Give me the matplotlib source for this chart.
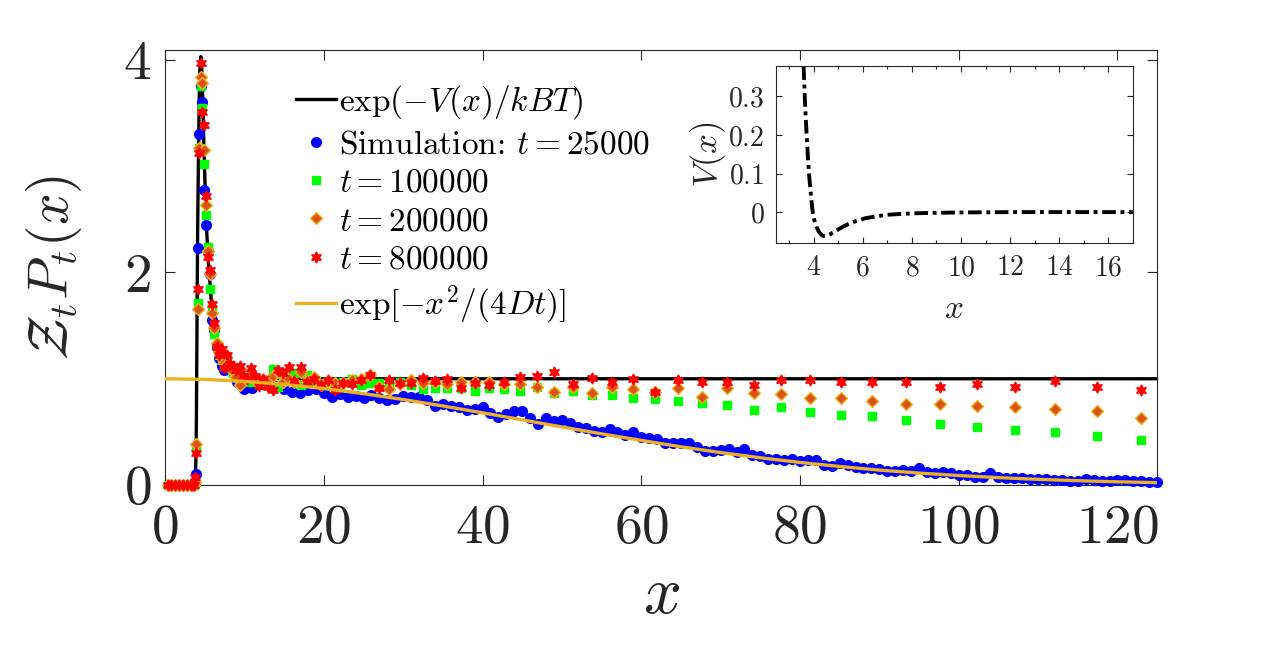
import matplotlib
matplotlib.use("Agg")
import matplotlib.pyplot as plt

plt.rcParams['mathtext.fontset'] = 'cm'
plt.rcParams['font.family'] = 'serif'
plt.rcParams['font.serif'] = ['cmr10', 'DejaVu Serif']
plt.rcParams['axes.unicode_minus'] = False
plt.rcParams['axes.formatter.use_mathtext'] = True

# exact curve exp(-V/kBT)
theory_x = [0.0, 3.5, 3.7, 3.8, 3.9, 3.95, 4.0, 4.05, 4.1, 4.2, 4.3, 4.4, 4.5, 4.6, 4.7, 4.8,
            4.9, 5.0, 5.2, 5.4, 5.6, 5.8, 6.0, 6.5, 7.0, 7.5, 8.0, 9.0, 10.0, 12.0, 15.0, 125.0]
theory_y = [0.0, 0.0, 0.0, 0.02, 0.3, 0.7, 1.3, 1.9, 2.4, 3.1, 3.65, 3.95, 4.03, 3.95, 3.75, 3.45,
            3.15, 2.9, 2.45, 2.15, 1.95, 1.75, 1.6, 1.38, 1.25, 1.17, 1.12, 1.06, 1.03, 1.01, 1.0, 1.0]

# gaussian exp[-x^2/(4Dt)] for t = 25000
gauss_x = [0, 5, 10, 15, 20, 25, 30, 35, 40, 45, 50, 55, 60, 65, 70, 75, 80, 85, 90, 95,
           100, 105, 110, 115, 120, 125]
gauss_y = [1.0, 0.994, 0.976, 0.947, 0.908, 0.86, 0.805, 0.744, 0.68, 0.613, 0.547, 0.482,
           0.42, 0.36, 0.306, 0.257, 0.213, 0.175, 0.141, 0.113, 0.09, 0.07, 0.054, 0.041,
           0.031, 0.023]

# simulation, t = 25000
sim_x = [0.3, 0.8, 1.3, 1.8, 2.3, 2.8, 3.2, 3.58, 3.75, 3.92, 4.11, 4.30, 4.50, 4.71, 4.93,
         5.17, 5.41, 5.66, 5.93, 6.21, 6.50, 6.81, 7.13, 7.46,
         8, 9, 10, 11, 12, 13, 14, 15, 16, 17, 18, 19, 20, 21, 22, 23, 24, 25, 26, 27, 28, 29,
         30, 31, 32, 33, 34, 35, 36, 37, 38, 39, 40, 41, 42, 43, 44, 45, 46, 47, 48, 49, 50,
         51, 52, 53, 54, 55, 56, 57, 58, 59, 60, 61, 62, 63, 64, 65, 66, 67, 68, 69, 70, 71,
         72, 73, 74, 75, 76, 77, 78, 79, 80, 81, 82, 83, 84, 85, 86, 87, 88, 89, 90, 91, 92,
         93, 94, 95, 96, 97, 98, 99, 100, 101, 102, 103, 104, 105, 106, 107, 108, 109, 110,
         111, 112, 113, 114, 115, 116, 117, 118, 119, 120, 121, 122, 123, 124, 125]
sim_25k = [0, 0, 0, 0, 0, 0, 0, 0, 0.02, 0.10, 2.23, 3.3, 3.75, 3.6, 2.78,
           2.45, 2.2, 1.99, 1.55, 1.46, 1.3, 1.2, 1.12, 1.08,
           1.10, 0.97, 0.90, 0.91, 0.95, 0.99, 0.93, 0.90, 0.88, 0.87, 0.89, 0.90, 0.87, 0.83,
           0.86, 0.83, 0.84, 0.82, 0.85, 0.82, 0.80, 0.81, 0.84, 0.83, 0.83, 0.80, 0.745, 0.76,
           0.745, 0.73, 0.71, 0.72, 0.73, 0.68, 0.645, 0.67, 0.70, 0.695, 0.63, 0.575, 0.63,
           0.60, 0.61, 0.58, 0.55, 0.54, 0.51, 0.50, 0.53, 0.50, 0.47, 0.50, 0.455, 0.44, 0.43,
           0.40, 0.395, 0.395, 0.40, 0.36, 0.32, 0.32, 0.33, 0.34, 0.31, 0.335, 0.28, 0.27,
           0.245, 0.25, 0.235, 0.245, 0.225, 0.24, 0.235, 0.19, 0.18, 0.21, 0.19, 0.17, 0.165,
           0.16, 0.15, 0.13, 0.13, 0.14, 0.135, 0.16, 0.12, 0.11, 0.12, 0.11, 0.095, 0.095,
           0.08, 0.075, 0.11, 0.08, 0.065, 0.07, 0.065, 0.06, 0.06, 0.06, 0.05, 0.045, 0.035,
           0.04, 0.055, 0.045, 0.04, 0.04, 0.045, 0.045, 0.035, 0.035, 0.03, 0.025]

# longer times share log-spaced bins
bin_x = [0.3, 0.8, 1.3, 1.8, 2.3, 2.8, 3.2, 3.41,
         3.58, 3.75, 3.92, 4.11, 4.30, 4.50, 4.71, 4.93, 5.17, 5.41, 5.66, 5.93, 6.21, 6.50,
         6.81, 7.13, 7.46, 7.81, 8.18, 8.56, 8.97, 9.39, 9.83, 10.29, 10.78, 11.28, 11.81,
         12.37, 12.95, 13.56, 14.19, 14.86, 15.56, 16.29, 17.06, 17.86, 18.70, 19.58, 20.50,
         21.46, 22.47, 23.52, 24.63, 25.79, 27.00, 28.27, 29.60, 30.99, 32.45, 33.97, 35.57,
         37.24, 38.99, 40.82, 42.74, 44.75, 46.85, 49.05, 51.36, 53.77, 56.30, 58.95, 61.72,
         64.62, 67.65, 70.83, 74.16, 77.65, 81.30, 85.12, 89.12, 93.31, 97.70, 102.29, 107.10,
         112.13, 117.40, 122.92]
sim_100k = [0, 0, 0, 0, 0, 0, 0, 0,
            0, 0.02, 0.36, 1.71, 3.17, 3.75, 3.55, 3.02, 2.54, 2.24, 1.84, 1.66, 1.42, 1.32,
            1.22, 1.18, 1.12, 1.21, 1.11, 1.05, 1.02, 1.03, 0.98, 1.0, 0.97, 1.01, 0.96,
            0.99, 0.97, 1.09, 0.925, 0.99, 1.02, 1.05, 0.94, 1.04, 0.98, 0.96, 0.97,
            0.94, 0.97, 1.0, 0.94, 0.96, 0.96, 0.93, 0.97, 0.94, 0.90, 0.91, 0.91,
            0.91, 0.887, 0.91, 0.90, 0.887, 0.92, 0.862, 0.885, 0.846, 0.843, 0.815, 0.806,
            0.787, 0.775, 0.75, 0.703, 0.73, 0.684, 0.656, 0.646, 0.609, 0.571, 0.543, 0.515,
            0.496, 0.458, 0.421]
sim_200k = [0, 0, 0, 0, 0, 0, 0, 0,
            0, 0.03, 0.39, 1.66, 3.17, 3.84, 3.78, 3.15, 2.63, 2.2, 1.99, 1.62, 1.48, 1.34,
            1.25, 1.2, 1.15, 1.14, 1.10, 1.07, 1.02, 0.94, 1.05, 1.02, 1.05, 0.985, 1.0,
            0.985, 0.985, 1.03, 1.06, 0.97, 1.0, 0.97, 1.06, 0.98, 1.02, 0.94, 0.98,
            0.96, 0.96, 0.985, 1.0, 1.04, 0.925, 0.90, 0.95, 0.99, 0.96, 0.97, 0.95,
            0.97, 0.97, 0.97, 0.955, 0.955, 0.925, 0.88, 0.925, 0.87, 0.92, 0.90, 0.88,
            0.91, 0.825, 0.91, 0.87, 0.853, 0.821, 0.815, 0.787, 0.759, 0.759, 0.740, 0.731,
            0.712, 0.693, 0.627]
sim_800k = [0, 0, 0, 0, 0, 0, 0, 0,
            0, 0.08, 0.30, 1.84, 3.12, 3.97, 3.51, 3.39, 2.72, 2.15, 2.02, 1.7, 1.52, 1.3,
            1.22, 1.28, 1.1, 1.22, 1.14, 1.12, 1.08, 1.12, 1.03, 1.0, 1.10, 1.03, 0.93,
            1.0, 0.92, 0.89, 1.08, 1.05, 1.11, 0.98, 1.11, 0.97, 1.0, 0.94, 0.985,
            0.89, 0.96, 0.95, 0.985, 1.04, 0.91, 0.985, 0.96, 0.96, 1.01, 0.98, 1.0,
            0.91, 0.96, 0.94, 0.97, 1.02, 1.03, 1.06, 0.955, 1.01, 0.97, 1.0, 0.88,
            0.99, 0.97, 0.97, 0.94, 0.99, 0.988, 0.972, 0.966, 0.972, 0.919, 0.947, 0.919,
            0.981, 0.919, 0.891]

# inset: potential V(x)
pot_x = [3.59, 3.62, 3.67, 3.72, 3.77, 3.82, 3.88, 3.93, 3.98, 4.05, 4.11, 4.2, 4.3, 4.38,
         4.5, 4.65, 4.79, 5.0, 5.19, 5.45, 5.74, 6.1, 6.55, 7.0, 7.5, 8.2, 8.86, 10, 12, 14, 17]
pot_v = [0.378, 0.32, 0.25, 0.19, 0.136, 0.09, 0.049, 0.015, -0.01, -0.027, -0.038, -0.05,
         -0.058, -0.062, -0.061, -0.058, -0.053, -0.045, -0.038, -0.03, -0.023, -0.016,
         -0.011, -0.007, -0.005, -0.003, -0.002, -0.001, 0.0, 0.0, 0.0]

dark = '#262626'
fig = plt.figure(figsize=(12.8, 6.7), dpi=100)
ax = fig.add_axes([0.129, 0.276, 0.775, 0.649])

ax.plot(theory_x, theory_y, color='k', lw=2.4, zorder=2,
        label=r'$\exp(-V(x)/kBT)$')
ax.plot(sim_x, sim_25k, ls='none', marker='o', ms=7, color='#0000FF', zorder=3,
        clip_on=False, label=r'Simulation: $t=25000$')
ax.plot(bin_x, sim_100k, ls='none', marker='s', ms=5.5, color='#00FF00', zorder=4,
        clip_on=False, label=r'$t=100000$')
ax.plot(bin_x, sim_200k, ls='none', marker='D', ms=6, mfc='#D95319', mec='#EDB120',
        mew=1, zorder=5, clip_on=False, label=r'$t=200000$')
ax.plot(bin_x, sim_800k, ls='none', marker=(6, 1, 0), ms=8, color='#FF0000', zorder=6,
        clip_on=False, label=r'$t=800000$')
ax.plot(gauss_x, gauss_y, color='#EDB120', lw=2.4, zorder=7,
        label=r'$\exp[-x^2/(4Dt)]$')

ax.set_xlim(0, 125)
ax.set_ylim(0, 4.09)
ax.set_xticks([0, 20, 40, 60, 80, 100, 120])
ax.set_xticklabels(['$0$', '$20$', '$40$', '$60$', '$80$', '$100$', '$120$'])
ax.set_yticks([0, 2, 4])
ax.set_yticklabels(['$0$', '$2$', '$4$'])
ax.tick_params(direction='in', top=True, right=True, length=7, width=0.8,
               labelsize=40, colors=dark)
ax.tick_params(axis='x', pad=14)
ax.tick_params(axis='y', pad=10)
for s in ax.spines.values():
    s.set_color(dark)
    s.set_linewidth(0.8)
ax.set_xlabel(r'$x$', fontsize=48, color=dark, labelpad=9)
ax.set_ylabel(r'$\mathcal{Z}_t P_t(x)$', fontsize=40, color=dark, labelpad=28)

ax.legend(loc='upper left', bbox_to_anchor=(0.108, 0.978), frameon=False, fontsize=24,
          handlelength=1.2, handletextpad=0.1, labelspacing=0.27, borderpad=0.2)

ins = fig.add_axes([0.606, 0.638, 0.279, 0.263])
ins.plot(pot_x, pot_v, color='k', lw=2.8, ls=(0, (3.5, 1.2, 1, 1.2)))
ins.set_xlim(2.45, 17)
ins.set_ylim(-0.079, 0.378)
ins.set_xticks([4, 6, 8, 10, 12, 14, 16])
ins.set_xticklabels(['$4$', '$6$', '$8$', '$10$', '$12$', '$14$', '$16$'])
ins.set_xticks([3, 5, 7, 9, 11, 13, 15, 17], minor=True)
ins.set_yticks([0, 0.1, 0.2, 0.3])
ins.set_yticklabels(['$0$', '$0.1$', '$0.2$', '$0.3$'])
ins.tick_params(which='both', direction='in', top=True, right=True, width=0.8,
                labelsize=20, colors=dark)
ins.tick_params(axis='x', which='both', pad=9)
ins.tick_params(axis='y', which='both', pad=8)
ins.tick_params(which='major', length=4)
ins.tick_params(which='minor', length=2.5)
for s in ins.spines.values():
    s.set_color(dark)
    s.set_linewidth(0.8)
ins.set_xlabel(r'$x$', fontsize=24, color=dark, labelpad=10)
ins.set_ylabel(r'$V(x)$', fontsize=25, color=dark, labelpad=0)

fig.savefig('out.png', dpi=100)
